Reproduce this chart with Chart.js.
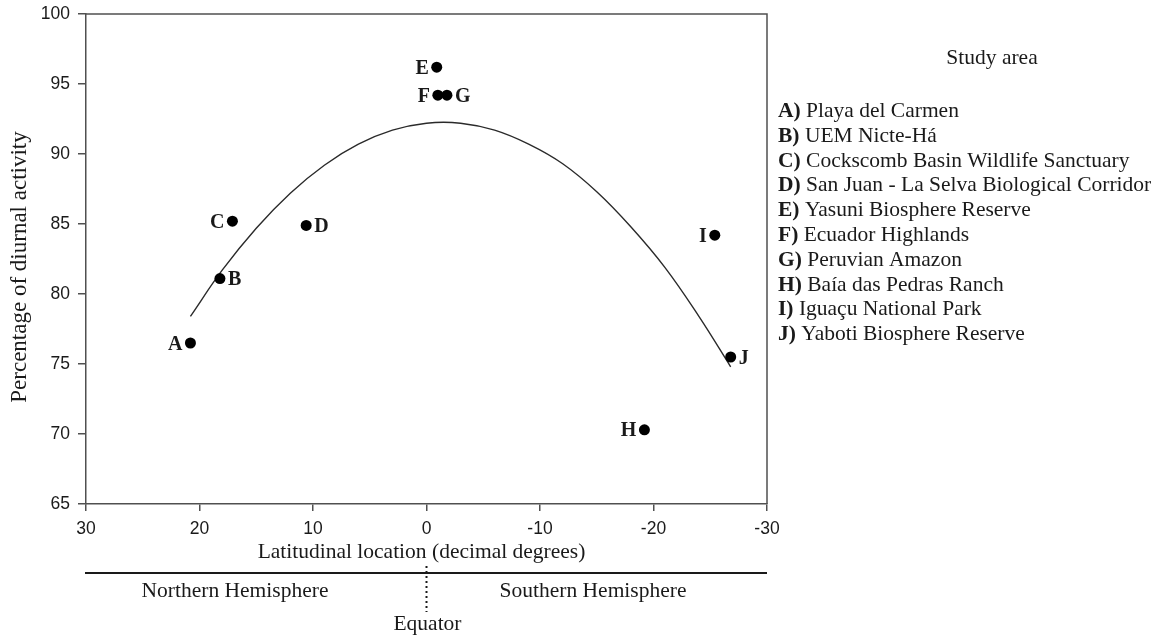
<!DOCTYPE html>
<html>
<head>
<meta charset="utf-8">
<script src="https://cdn.jsdelivr.net/npm/chart.js@4.4.1/dist/chart.umd.min.js"></script>
<style>
  html, body { margin: 0; padding: 0; background: #fff; }
  canvas { display: block; }
</style>
</head>
<body>
<canvas id="chart" width="1159" height="636"></canvas>
<script>
// Study sites: code letter, name, latitude (decimal degrees) and % diurnal activity
const siteCodes = ['A', 'B', 'C', 'D', 'E', 'F', 'G', 'H', 'I', 'J'];
const siteNames = [
  'Playa del Carmen',
  'UEM Nicte-Há',
  'Cockscomb Basin Wildlife Sanctuary',
  'San Juan - La Selva Biological Corridor',
  'Yasuni Biosphere Reserve',
  'Ecuador Highlands',
  'Peruvian Amazon',
  'Baía das Pedras Ranch',
  'Iguaçu National Park',
  'Yaboti Biosphere Reserve'
];
const siteLatitude = [20.8, 18.2, 17.1, 10.6, -0.9, -1.0, -1.8, -19.2, -25.4, -26.8];
const diurnalPct   = [76.5, 81.1, 85.2, 84.9, 96.2, 94.2, 94.2, 70.3, 84.2, 75.5];
// which side of the dot each letter sits on
const labelSide    = ['left', 'right', 'left', 'right', 'left', 'left', 'right', 'left', 'left', 'right'];

// Fitted quadratic trend, read along its course
const trendLatitude = [20.8, 18, 15, 12, 9, 6, 3, 0, -3, -6, -9, -12, -15, -18, -21, -24, -26.8];
const trendPct      = [78.4, 81.7, 84.7, 87.2, 89.2, 90.7, 91.7, 92.2, 92.2, 91.7, 90.7, 89.3, 87.3, 84.8, 81.9, 78.4, 74.8];

// Axis ranges and tick steps
const latRange = [-30, 30];
const latStep = 10;
const pctRange = [65, 100];
const pctStep = 5;

const xTitle = 'Latitudinal location (decimal degrees)';
const yTitle = 'Percentage of diurnal activity';
const legendTitle = 'Study area';
const northLabel = 'Northern Hemisphere';
const southLabel = 'Southern Hemisphere';
const equatorLabel = 'Equator';

const SERIF = '"Liberation Serif", "Times New Roman", serif';
const SANS = '"Liberation Sans", Arial, sans-serif';
const INK = '#1a1a1a';
const AXIS = '#505050';

const sitePoints = siteLatitude.map((x, i) => ({ x, y: diurnalPct[i] }));
const trendPoints = trendLatitude.map((x, i) => ({ x, y: trendPct[i] }));

const annotations = {
  id: 'annotations',
  afterDraw(chart) {
    const { ctx, chartArea: a, scales: { x } } = chart;
    ctx.save();

    // closing frame: top and right edges of the plot box
    ctx.strokeStyle = AXIS;
    ctx.lineWidth = 1.5;
    ctx.beginPath();
    ctx.moveTo(a.left, a.top);
    ctx.lineTo(a.right, a.top);
    ctx.lineTo(a.right, a.bottom);
    ctx.stroke();

    // site letters beside the dots
    ctx.fillStyle = INK;
    ctx.font = 'bold 20px ' + SERIF;
    ctx.textBaseline = 'alphabetic';
    const meta = chart.getDatasetMeta(0);
    meta.data.forEach((pt, i) => {
      const left = labelSide[i] === 'left';
      ctx.textAlign = left ? 'right' : 'left';
      ctx.fillText(siteCodes[i], pt.x + (left ? -8 : 8), pt.y + 6.5);
    });

    // axis titles
    ctx.font = '21.5px ' + SERIF;
    ctx.textAlign = 'center';
    ctx.textBaseline = 'middle';
    ctx.fillText(xTitle, (a.left + a.right) / 2 - 5, 552);
    ctx.save();
    ctx.font = '23px ' + SERIF;
    ctx.translate(20, (a.top + a.bottom) / 2 + 8);
    ctx.rotate(-Math.PI / 2);
    ctx.fillText(yTitle, 0, 0);
    ctx.restore();

    // study-area key
    ctx.textBaseline = 'alphabetic';
    ctx.fillText(legendTitle, 992, 64);
    ctx.textAlign = 'left';
    siteCodes.forEach((code, i) => {
      const y = 117 + i * 24.8;
      ctx.font = 'bold 21.5px ' + SERIF;
      const tag = code + ')';
      ctx.fillText(tag, 778, y);
      const w = ctx.measureText(tag).width;
      ctx.font = '21.5px ' + SERIF;
      ctx.fillText(' ' + siteNames[i], 778 + w, y);
    });

    // hemisphere bar below the axis
    const eq = x.getPixelForValue(0);
    ctx.strokeStyle = INK;
    ctx.lineWidth = 2;
    ctx.beginPath();
    ctx.moveTo(a.left - 1, 573);
    ctx.lineTo(a.right, 573);
    ctx.stroke();
    ctx.setLineDash([2, 3]);
    ctx.beginPath();
    ctx.moveTo(eq, 566);
    ctx.lineTo(eq, 612);
    ctx.stroke();
    ctx.setLineDash([]);

    ctx.font = '21.5px ' + SERIF;
    ctx.textAlign = 'center';
    ctx.fillText(northLabel, 235, 597);
    ctx.fillText(southLabel, 593, 597);
    ctx.fillText(equatorLabel, eq + 1, 630);

    ctx.restore();
  }
};

new Chart(document.getElementById('chart'), {
  type: 'scatter',
  data: {
    datasets: [
      {
        label: 'Study sites',
        data: sitePoints,
        pointRadius: 5.5,
        pointHoverRadius: 5.5,
        pointBackgroundColor: '#000',
        pointBorderWidth: 0,
        order: 0
      },
      {
        label: 'Quadratic fit',
        type: 'line',
        data: trendPoints,
        showLine: true,
        borderColor: '#2a2a2a',
        borderWidth: 1.4,
        pointRadius: 0,
        tension: 0.4,
        fill: false,
        order: 1
      }
    ]
  },
  options: {
    responsive: false,
    animation: false,
    events: [],
    layout: { padding: { left: 0, right: 392, top: 14, bottom: 92 } },
    plugins: {
      legend: { display: false },
      tooltip: { enabled: false }
    },
    scales: {
      x: {
        type: 'linear',
        reverse: true,
        min: latRange[0],
        max: latRange[1],
        afterFit(s) { s.height = 40; },
        ticks: { stepSize: latStep, color: INK, padding: 8, font: { family: SANS, size: 17.5 } },
        grid: { drawOnChartArea: false, drawTicks: true, tickLength: 7, color: AXIS, lineWidth: 1.5 },
        border: { display: true, color: AXIS, width: 1.5 }
      },
      y: {
        type: 'linear',
        min: pctRange[0],
        max: pctRange[1],
        afterFit(s) { s.width = 86; s.paddingTop = 0; s.paddingBottom = 0; },
        ticks: { stepSize: pctStep, color: INK, padding: 8, font: { family: SANS, size: 17.5 } },
        grid: { drawOnChartArea: false, drawTicks: true, tickLength: 8, color: AXIS, lineWidth: 1.5 },
        border: { display: true, color: AXIS, width: 1.5 }
      }
    }
  },
  plugins: [annotations]
});
</script>
</body>
</html>
